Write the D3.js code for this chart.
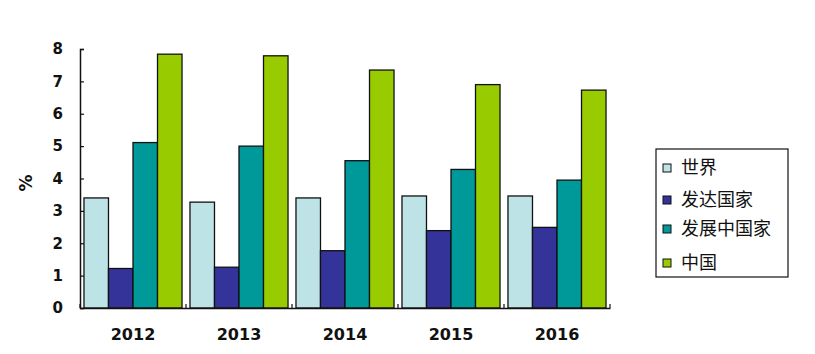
<!DOCTYPE html>
<html>
<head>
<meta charset="utf-8">
<script src="https://cdn.jsdelivr.net/npm/d3@7"></script>
<style>
body { margin: 0; background: #fff; }
svg { display: block; }
</style>
</head>
<body>
<div class="container"></div>
<script>
var years = ['2012', '2013', '2014', '2015', '2016'];
var seriesNames = ['世界', '发达国家', '发展中国家', '中国'];
var world = [3.4, 3.27, 3.4, 3.46, 3.46];
var developed = [1.22, 1.26, 1.77, 2.39, 2.49];
var developing = [5.11, 5.0, 4.55, 4.28, 3.95];
var china = [7.84, 7.79, 7.35, 6.9, 6.73];
var yTicks = [0, 1, 2, 3, 4, 5, 6, 7, 8];
var colors = ['#bde3e6', '#333399', '#009999', '#99cc00'];

var WIDTH = 815, HEIGHT = 354;
var LEFT = 80, RIGHT = 610, TOP = 49, BOTTOM = 308;

var appendGroupAndTranslateBy = function(x, y, svg) {
	return svg.append('g').attr('transform', 'translate(' + x + ',' + y + ')');
}

var svg = d3.select('.container').append('svg')
	.attr('width', WIDTH)
	.attr('height', HEIGHT);

var xScale = d3.scaleBand().domain(years).range([LEFT, RIGHT]).paddingInner(0.075).paddingOuter(0.0375);
var xSub = d3.scaleBand().domain(seriesNames).range([0, xScale.bandwidth()]);
var yScale = d3.scaleLinear().domain([0, 8]).range([BOTTOM, TOP]);

var table = years.map(function(y, i) {
	return { year: y, values: [world[i], developed[i], developing[i], china[i]] };
});

// bars
var groups = svg.selectAll('g.year').data(table).enter()
	.append('g')
	.attr('class', 'year')
	.attr('transform', function(d) { return 'translate(' + xScale(d.year) + ',0)'; });

groups.selectAll('rect').data(function(d) {
		return d.values.map(function(v, j) { return { name: seriesNames[j], value: v, idx: j }; });
	}).enter()
	.append('rect')
	.attr('x', function(d) { return xSub(d.name); })
	.attr('y', function(d) { return yScale(d.value); })
	.attr('width', xSub.bandwidth())
	.attr('height', function(d) { return BOTTOM - yScale(d.value); })
	.attr('fill', function(d) { return colors[d.idx]; })
	.attr('stroke', '#111')
	.attr('stroke-width', 1.3);

// y axis
var yAxis = d3.axisLeft(yScale).tickValues(yTicks).tickSize(-4).tickPadding(17).tickFormat(d3.format('d'));
var yg = appendGroupAndTranslateBy(LEFT, 0, svg).call(yAxis);
yg.select('.domain').attr('stroke', '#111').attr('stroke-width', 1.5);
yg.selectAll('.tick line').attr('stroke', '#111').attr('stroke-width', 1.2);
yg.selectAll('text')
	.attr('font-family', 'Verdana, "DejaVu Sans", sans-serif')
	.attr('font-weight', 'bold')
	.attr('font-size', 15)
	.attr('fill', '#111');

// x axis
var xAxis = d3.axisBottom(xScale).tickSize(0).tickPadding(21);
var xg = appendGroupAndTranslateBy(0, BOTTOM, svg).call(xAxis);
xg.select('.domain').attr('stroke', '#111').attr('stroke-width', 1.5);
xg.selectAll('text')
	.attr('font-family', 'Verdana, "DejaVu Sans", sans-serif')
	.attr('font-weight', 'bold')
	.attr('font-size', 16)
	.attr('fill', '#111');

// category boundary ticks
var bounds = d3.range(years.length + 1).map(function(i) { return LEFT + i * xScale.step(); });
svg.selectAll('line.bound').data(bounds).enter()
	.append('line')
	.attr('class', 'bound')
	.attr('x1', function(d) { return d; })
	.attr('x2', function(d) { return d; })
	.attr('y1', BOTTOM)
	.attr('y2', BOTTOM - 4)
	.attr('stroke', '#111')
	.attr('stroke-width', 1.2);

// unit label
svg.append('text')
	.attr('transform', 'translate(26,183) rotate(-90)')
	.attr('text-anchor', 'middle')
	.attr('dominant-baseline', 'central')
	.attr('font-family', 'Verdana, "DejaVu Sans", sans-serif')
	.attr('font-weight', 'bold')
	.attr('font-size', 17)
	.attr('fill', '#111')
	.text('%');

// legend
var legend = appendGroupAndTranslateBy(656, 149, svg);
legend.append('rect')
	.attr('width', 132).attr('height', 128)
	.attr('fill', '#fff').attr('stroke', '#111').attr('stroke-width', 1.2);
var legendY = [19, 51, 80, 114];
var items = legend.selectAll('g.item').data(seriesNames).enter()
	.append('g')
	.attr('class', 'item')
	.attr('transform', function(d, i) { return 'translate(0,' + legendY[i] + ')'; });
items.append('rect')
	.attr('x', 7).attr('y', -4)
	.attr('width', 8).attr('height', 8)
	.attr('fill', function(d, i) { return colors[i]; })
	.attr('stroke', '#111').attr('stroke-width', 1);
items.append('text')
	.attr('x', 25)
	.attr('dy', '0.36em')
	.attr('font-family', '"Noto Sans CJK SC", sans-serif')
	.attr('font-size', 18)
	.attr('fill', '#111')
	.text(function(d) { return d; });
</script>
</body>
</html>
